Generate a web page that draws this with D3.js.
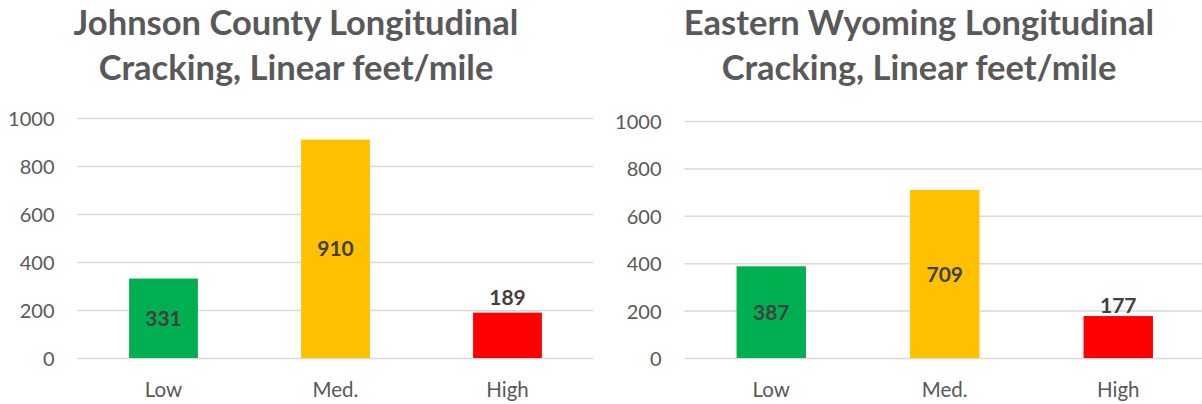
<!DOCTYPE html>
<html>
<head>
<meta charset="utf-8">
<script src="https://cdn.jsdelivr.net/npm/d3@7"></script>
<style>
  html, body { margin: 0; padding: 0; background: #ffffff; }
  svg { display: block; }
</style>
</head>
<body>
<svg id="chart" width="1202" height="404"></svg>
<script>
// ---- data ----
const categories = ["Low", "Med.", "High"];
const johnsonValues = [331, 910, 189];
const wyomingValues = [387, 709, 177];
const titlesJohnson = ["Johnson County Longitudinal", "Cracking, Linear feet/mile"];
const titlesWyoming = ["Eastern Wyoming Longitudinal", "Cracking, Linear feet/mile"];
const yTicks = [0, 200, 400, 600, 800, 1000];
const barColors = ["#00B050", "#FFC000", "#FF0000"];
const labelInside = [true, true, false];

const svg = d3.select("#chart");
const FONT = "Lato, 'Open Sans', 'Noto Sans', sans-serif";

const panels = [
  { title: titlesJohnson, values: johnsonValues, x0: 77.5, x1: 593.5, yTop: 118, yBot: 358, titleX: 296, outsideGap: 8 },
  { title: titlesWyoming, values: wyomingValues, x0: 684.5, x1: 1205, yTop: 121, yBot: 358, titleX: 919, outsideGap: 3 }
];

panels.forEach(p => {
  const g = svg.append("g");
  const x = d3.scaleBand().domain(categories).range([p.x0, p.x1]).paddingInner(0.6).paddingOuter(0.3);
  const y = d3.scaleLinear().domain([0, 1000]).range([p.yBot, p.yTop]);

  // title
  const t = g.append("text")
    .attr("text-anchor", "middle")
    .attr("font-family", FONT)
    .attr("font-weight", "bold")
    .attr("font-size", 34.5)
    .attr("fill", "#595959");
  t.append("tspan").attr("x", p.titleX).attr("y", 35).text(p.title[0]);
  t.append("tspan").attr("x", p.titleX).attr("y", 80).text(p.title[1]);

  // gridlines + y labels via axis
  const yAxis = d3.axisLeft(y).tickValues(yTicks).tickSize(-(p.x1 - p.x0)).tickPadding(23).tickFormat(d3.format("d"));
  const ag = g.append("g").attr("transform", `translate(${p.x0},0)`).call(yAxis);
  ag.select(".domain").remove();
  ag.selectAll(".tick line").attr("stroke", "#D9D9D9").attr("stroke-width", 1.5);
  ag.selectAll(".tick text")
    .attr("font-family", FONT).attr("font-size", 20).attr("fill", "#595959")
    .attr("dy", "0.37em");

  // x labels via axis
  const xAxis = d3.axisBottom(x).tickSize(0).tickPadding(0);
  const xg = g.append("g").attr("transform", `translate(0,${p.yBot})`).call(xAxis);
  xg.select(".domain").remove();
  xg.selectAll(".tick text")
    .attr("font-family", FONT).attr("font-size", 20.5).attr("fill", "#595959")
    .attr("y", 39).attr("dy", 0);

  // bars
  const bw = x.bandwidth();
  g.selectAll("rect.bar").data(p.values).enter().append("rect")
    .attr("class", "bar")
    .attr("x", (d, i) => x(categories[i]))
    .attr("width", bw)
    .attr("y", d => y(d))
    .attr("height", d => y(0) - y(d))
    .attr("fill", (d, i) => barColors[i]);

  // data labels
  g.selectAll("text.lbl").data(p.values).enter().append("text")
    .attr("class", "lbl")
    .attr("text-anchor", "middle")
    .attr("font-family", FONT).attr("font-weight", "bold").attr("font-size", 21)
    .attr("fill", "#404040")
    .attr("x", (d, i) => x(categories[i]) + bw / 2)
    .attr("y", (d, i) => labelInside[i] ? (y(d) + y(0)) / 2 : y(d) - p.outsideGap)
    .attr("dy", (d, i) => labelInside[i] ? "0.36em" : 0)
    .text(d => d);
});
</script>
</body>
</html>
